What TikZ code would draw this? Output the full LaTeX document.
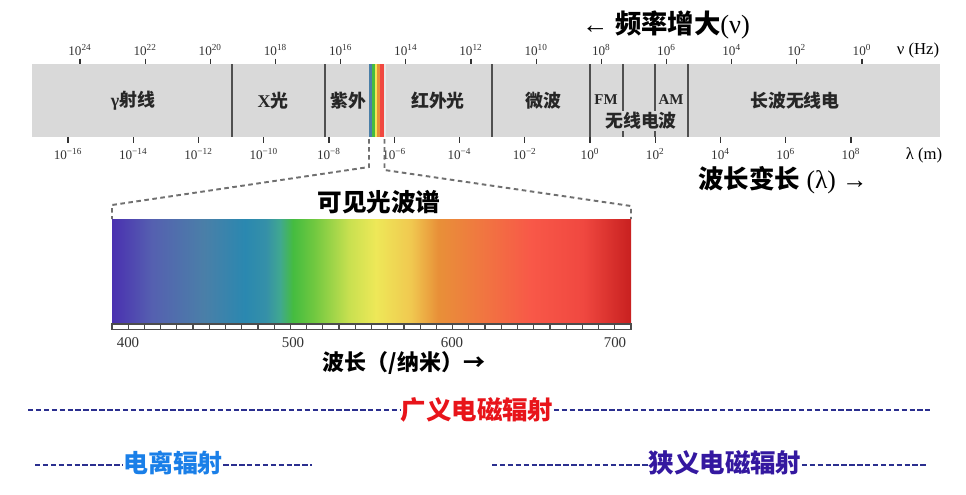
\documentclass[tikz,border=0pt]{standalone}
\usepackage{fontspec}
\setmainfont{Liberation Serif}
\newfontfamily\cjk{Noto Sans CJK SC}
\usetikzlibrary{arrows,shapes}
\definecolor{barfill}{HTML}{D9D9D9}
\definecolor{divline}{HTML}{505050}
\definecolor{zoomc}{HTML}{707070}
\definecolor{hyphc}{HTML}{2B2F8F}
\definecolor{widec}{HTML}{E8141A}
\definecolor{ionc}{HTML}{1A7FE8}
\definecolor{narrowc}{HTML}{3418A0}
\definecolor{sA}{HTML}{4A30B0}
\definecolor{sB}{HTML}{5560B0}
\definecolor{sC}{HTML}{4A7FA8}
\definecolor{sD}{HTML}{2A88B0}
\definecolor{sE}{HTML}{3590A8}
\definecolor{sF}{HTML}{40A890}
\definecolor{sG}{HTML}{45BC40}
\definecolor{sH}{HTML}{70C840}
\definecolor{sI}{HTML}{C8E050}
\definecolor{sJ}{HTML}{EEE858}
\definecolor{sK}{HTML}{F0C850}
\definecolor{sL}{HTML}{E89038}
\definecolor{sM}{HTML}{F07840}
\definecolor{sN}{HTML}{F85848}
\definecolor{sO}{HTML}{F04840}
\definecolor{sP}{HTML}{C82020}
\pgfdeclarehorizontalshading{visspec}{100bp}{color(0bp)=(sA); color(25bp)=(sA);
  color(28.85bp)=(sB); color(33.86bp)=(sC); color(37.81bp)=(sD); color(39.84bp)=(sE);
  color(41.18bp)=(sF); color(42.44bp)=(sG); color(44.46bp)=(sH); color(47.83bp)=(sI);
  color(50.43bp)=(sJ); color(53.81bp)=(sK); color(56.41bp)=(sL); color(60.36bp)=(sM);
  color(65.37bp)=(sN); color(70.38bp)=(sO); color(75bp)=(sP); color(100bp)=(sP)}
\tikzset{
  axtick/.style={draw=black!80, line width=0.7pt},
  axlab/.style={font=\fontsize{7.5}{8}\selectfont, text=black!80},
  divider/.style={draw=divline, line width=1.1pt},
  barlab/.style={font=\cjk\bfseries\fontsize{10.2}{11}\selectfont, text=black!85},
  zoomline/.style={draw=zoomc, line width=1.1pt, dash pattern=on 2.6pt off 2pt},
  hyph/.style={draw=hyphc, line width=1.3pt, dash pattern=on 3.1pt off 1.4pt},
  bigtext/.style={inner sep=0pt, font=\cjk\bfseries\fontsize{14.5}{16}\selectfont}
}
\begin{document}
\begin{tikzpicture}[x=0.02cm,y=-0.02cm]
  \path[fill=white] (0,0) rectangle (966,494);
  \node[font=\fontsize{15}{16}\selectfont] (frequp) at (666,25) {← {\cjk\bfseries 频率增大}(ν)};
  \fill[barfill] (32,64) rectangle (940,137);
  \foreach \a/\b/\c in {369/372.3/sC, 372.3/374.8/sG, 374.8/377.4/sJ, 377.4/379.5/sL, 379.5/384/sO, 384/385.5/barfill!60!white}
    \fill[\c] (\a,64) rectangle (\b,137);
  \foreach \x in {232,325,492,590,623,655,688}
    \draw[divider] (\x,64) -- (\x,137);
  \foreach \k in {0,...,12}{
    \pgfmathtruncatemacro\e{24-2*\k}
    \node[axlab] (nu\k) at (80+65.17*\k,50) {10\textsuperscript{\e}};
    \draw[axtick] (80+65.17*\k,58.5) -- (80+65.17*\k,64);
  }
  \foreach \k in {0,...,12}{
    \pgfmathtruncatemacro\e{abs(2*\k-16)}
    \node[axlab] (lam\k) at (68+65.25*\k,154) {10\textsuperscript{\ifnum\k<8 −\fi\e}};
    \draw[axtick] (68+65.25*\k,137) -- (68+65.25*\k,143);
  }
  \node[font=\fontsize{9.5}{10}\selectfont] (nuunit) at (918,50) {ν (Hz)};
  \node[font=\fontsize{9.5}{10}\selectfont] (lamunit) at (924,155) {λ (m)};
  \node[barlab] (gamma) at (133,101) {{\rmfamily γ}射线};
  \node[barlab] (xray) at (273,101) {{\rmfamily X}光};
  \node[barlab] (uv) at (348,101) {紫外};
  \node[barlab] (ir) at (438,101) {红外光};
  \node[barlab] (micro) at (543,101) {微波};
  \node[barlab, font=\bfseries\fontsize{8.5}{9}\selectfont] (fm) at (606,100) {FM};
  \node[barlab, font=\bfseries\fontsize{8.5}{9}\selectfont] (am) at (671,100) {AM};
  \node[barlab, fill=barfill, inner sep=1pt] (radio) at (641,121) {无线电波};
  \node[barlab] (longw) at (795,101) {长波无线电};
  \node[font=\fontsize{14.5}{16}\selectfont] (lamup) at (783,180) {{\cjk\bfseries 波长变长} (λ) →};
  \coordinate (stripL) at (369,139);
  \coordinate (stripR) at (384.5,139);
  \coordinate (specL) at (112,219);
  \coordinate (specR) at (631,219);
  \draw[zoomline] (stripL) -- ++(0,28) -- (112,205) -- (specL);
  \draw[zoomline] (stripR) -- ++(0,31) -- (631,206) -- (specR);
  \node[bigtext, font=\cjk\bfseries\fontsize{14}{15}\selectfont] (vistitle) at (379,202) {可见光波谱};
  \shade[shading=visspec] (112,219) rectangle (631,324);
  \draw[draw=black!70, fill=white, line width=0.7pt] (112,324) rectangle (631,329.5);
  \foreach \i in {1,...,31}
    \draw[draw=black!70, line width=0.7pt] (112+16.22*\i,324) -- ++(0,5.5);
  \foreach \w/\x in {400/128,500/293,600/452,700/615}
    \node[axlab, font=\fontsize{8.5}{9}\selectfont] (nm\w) at (\x,343) {\w};
  \node[font=\cjk\bfseries\fontsize{12.5}{14}\selectfont] (nmaxis) at (404,363) {波长（/纳米）→};
  \node[bigtext, text=widec] (wide) at (477,410) {广义电磁辐射};
  \coordinate (wideL) at (28,410);
  \coordinate (wideR) at (930,410);
  \draw[hyph] (wideL) -- (wide.west);
  \draw[hyph] (wide.east) -- (wideR);
  \node[bigtext, text=ionc, font=\cjk\bfseries\fontsize{14.2}{16}\selectfont] (ion) at (173,463) {电离辐射};
  \coordinate (ionL) at (35,465);
  \coordinate (ionR) at (312,465);
  \draw[hyph] (ionL) -- (ion.west |- ionL);
  \draw[hyph] (ion.east |- ionR) -- (ionR);
  \node[bigtext, text=narrowc] (narrow) at (725,463) {狭义电磁辐射};
  \coordinate (narrowL) at (492,465);
  \coordinate (narrowR) at (928,465);
  \draw[hyph] (narrowL) -- (narrow.west |- narrowL);
  \draw[hyph] (narrow.east |- narrowR) -- (narrowR);
\end{tikzpicture}
\end{document}
